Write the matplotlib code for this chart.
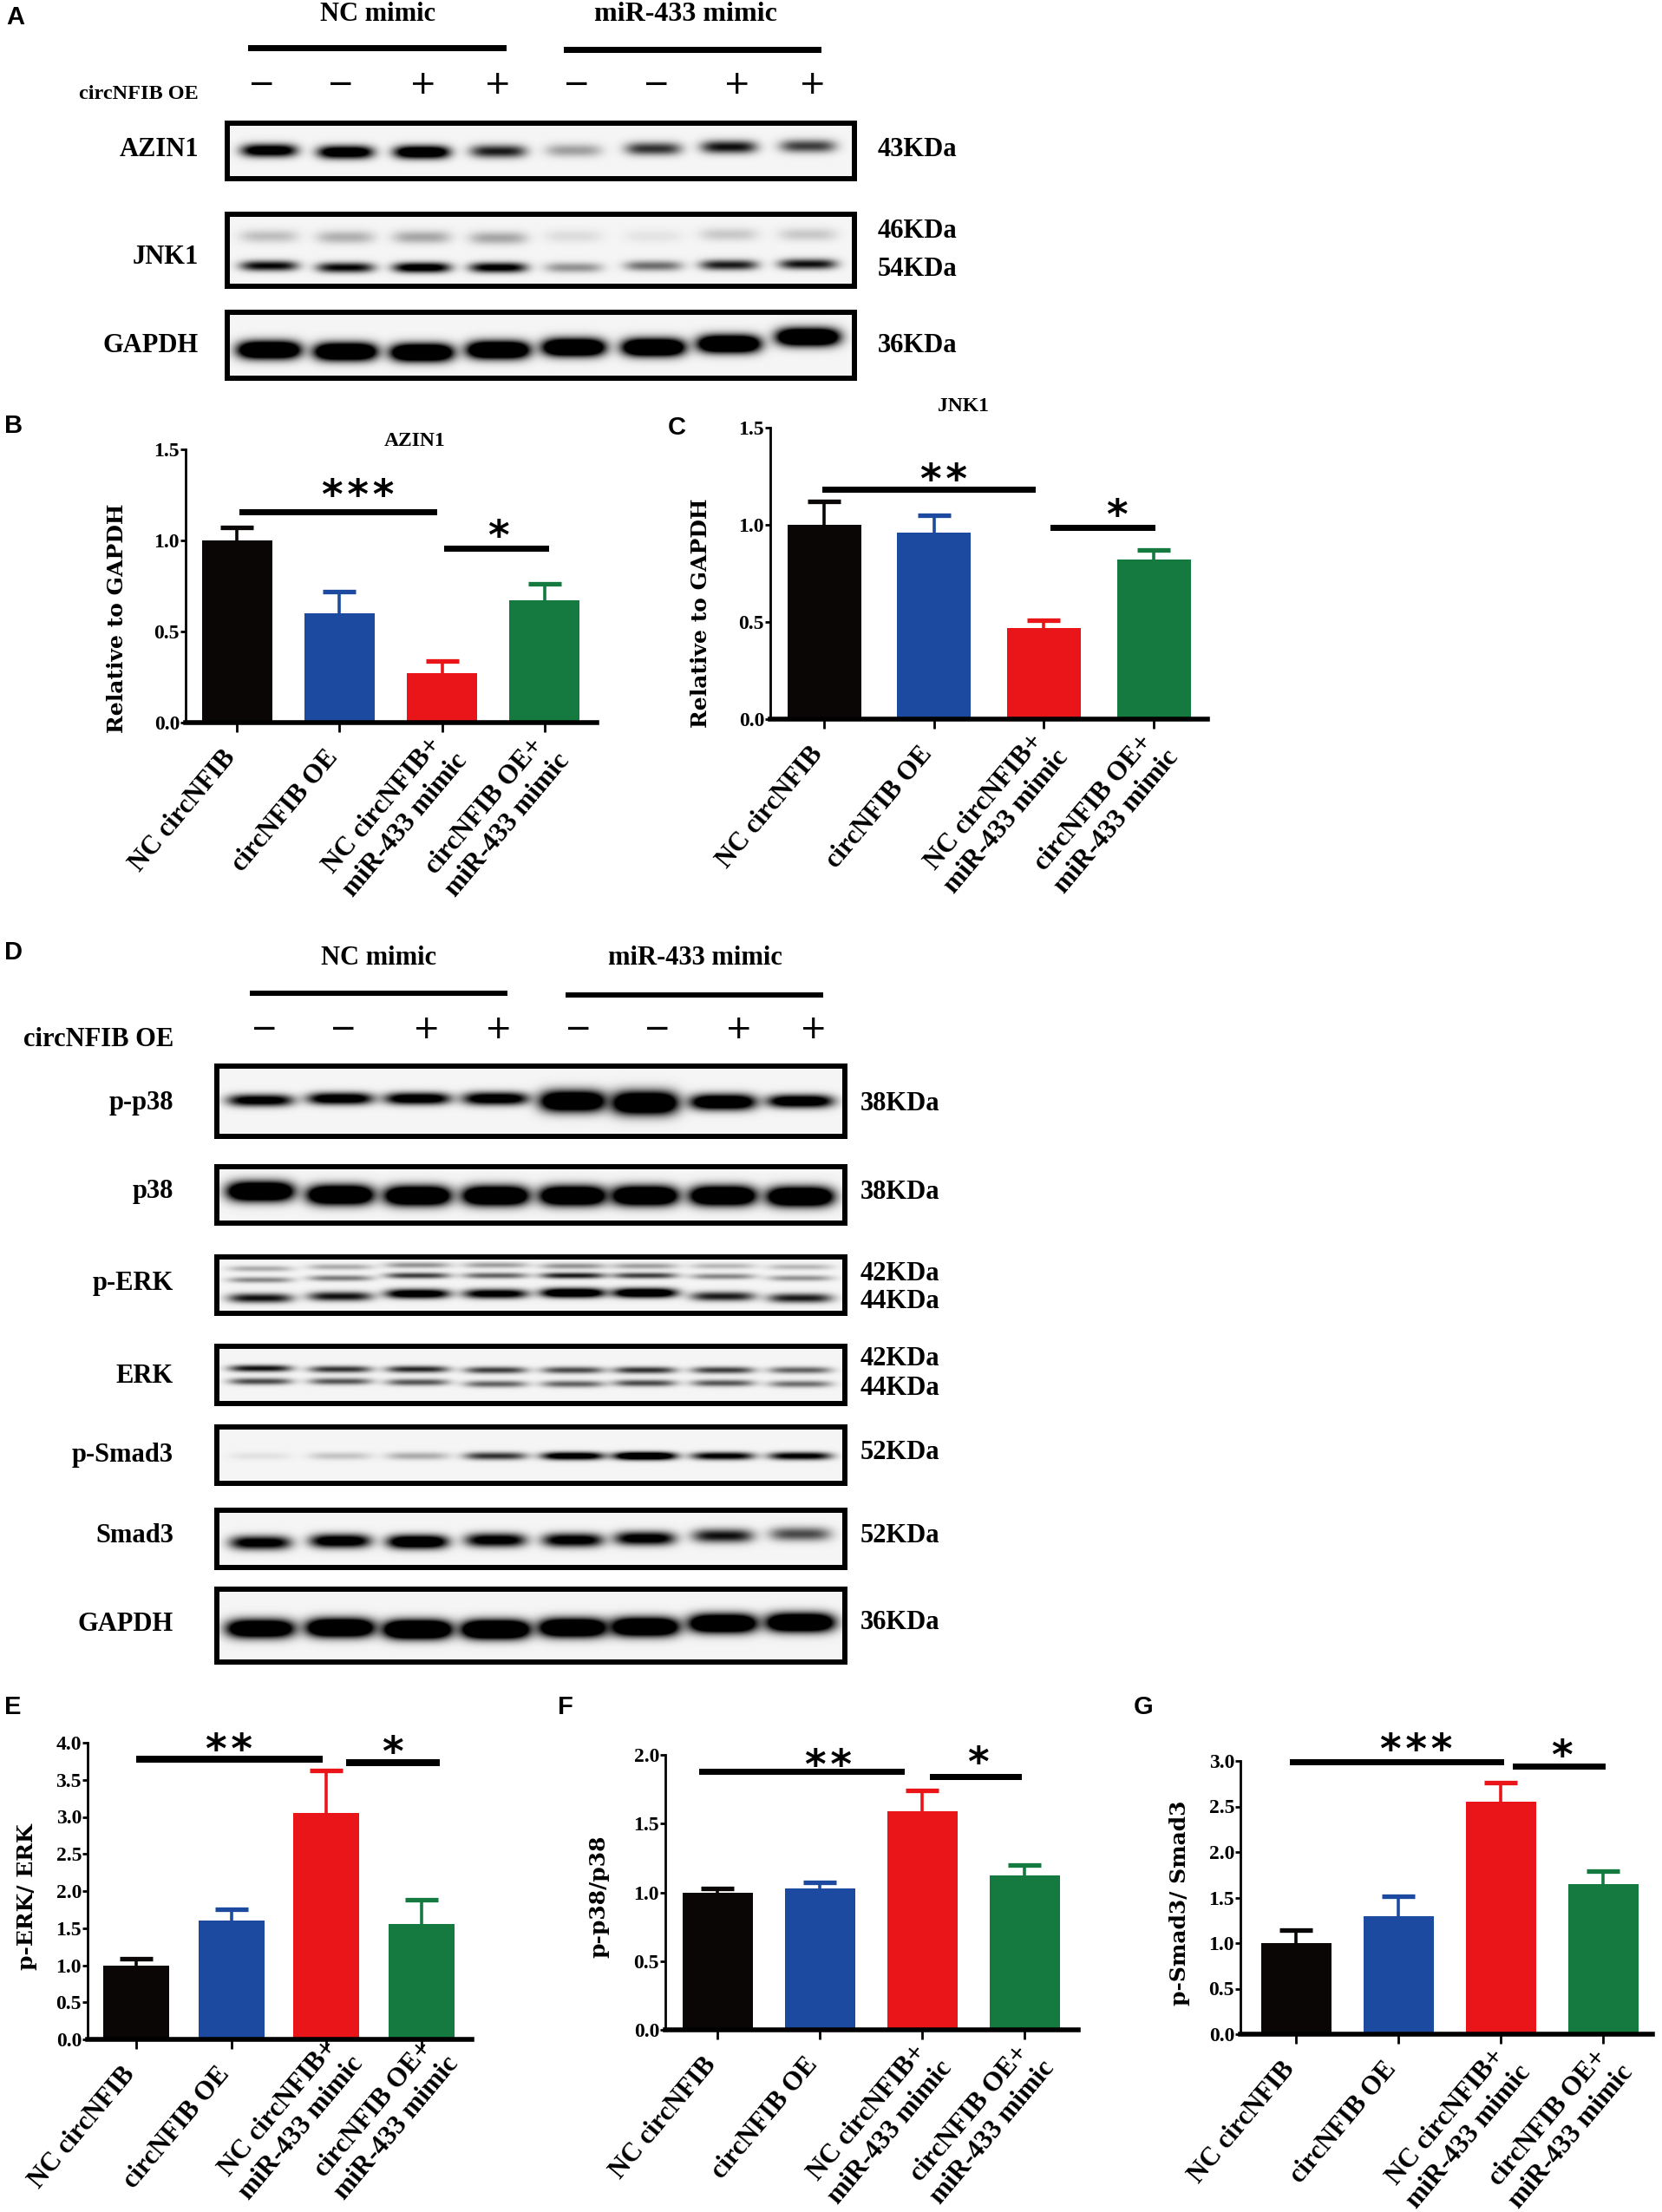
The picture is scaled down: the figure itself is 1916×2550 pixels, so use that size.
import matplotlib
matplotlib.use("Agg")
import matplotlib.pyplot as plt
from matplotlib.patches import Rectangle
import numpy as np

W, H = 1916, 2550
SERIF = "Liberation Serif"

# bar chart data
groups = ["NC circNFIB", "circNFIB OE", "NC circNFIB+\nmiR-433 mimic", "circNFIB OE+\nmiR-433 mimic"]
colors = ["#0a0606", "#1c4aa0", "#ea1519", "#157a40"]

azin1_mean = [1.0, 0.60, 0.27, 0.67]
azin1_top = [1.07, 0.72, 0.34, 0.76]
jnk1_mean = [1.0, 0.96, 0.47, 0.82]
jnk1_top = [1.12, 1.05, 0.51, 0.87]
perk_mean = [1.0, 1.60, 3.05, 1.55]
perk_top = [1.09, 1.75, 3.62, 1.88]
pp38_mean = [1.0, 1.03, 1.59, 1.12]
pp38_top = [1.03, 1.07, 1.74, 1.20]
psmad_mean = [1.0, 1.30, 2.55, 1.65]
psmad_top = [1.14, 1.51, 2.76, 1.79]

ticks_b = [0.0, 0.5, 1.0, 1.5]
ticks_e = [0.0, 0.5, 1.0, 1.5, 2.0, 2.5, 3.0, 3.5, 4.0]
ticks_f = [0.0, 0.5, 1.0, 1.5, 2.0]
ticks_g = [0.0, 0.5, 1.0, 1.5, 2.0, 2.5, 3.0]

# blot band darkness per lane, 0 = nothing, 1 = saturated
a_azin1 = [1.3, 1.4, 1.5, 0.9, 0.35, 0.8, 0.95, 0.75]
a_jnk_up = [0.22, 0.28, 0.32, 0.32, 0.1, 0.07, 0.18, 0.18]
a_jnk_low = [1.0, 1.0, 1.2, 1.1, 0.4, 0.55, 0.9, 0.95]
a_gapdh = [2.0] * 8
d_pp38 = [1.2, 1.3, 1.3, 1.3, 1.8, 1.9, 1.6, 1.4]
d_p38 = [2.0] * 8
d_perk_a = [0.3, 0.3, 0.4, 0.35, 0.4, 0.35, 0.25, 0.25]
d_perk_b = [0.45, 0.5, 0.75, 0.6, 0.9, 0.75, 0.45, 0.4]
d_perk_c = [0.95, 0.95, 1.3, 1.2, 1.5, 1.5, 0.9, 0.9]
d_erk_a = [0.95, 0.8, 0.85, 0.75, 0.7, 0.8, 0.75, 0.6]
d_erk_b = [0.7, 0.65, 0.65, 0.6, 0.6, 0.7, 0.65, 0.55]
d_psmad = [0.08, 0.2, 0.3, 0.8, 1.3, 1.6, 1.1, 1.1]
d_smad = [1.2, 1.3, 1.5, 1.2, 1.2, 1.2, 0.95, 0.7]
d_gapdh = [1.8, 2.0, 2.2, 2.2, 2.0, 2.0, 2.0, 2.0]

signs = ["−", "−", "+", "+", "−", "−", "+", "+"]

fig = plt.figure(figsize=(W / 100, H / 100), dpi=100, facecolor="white")
page = fig.add_axes([0, 0, 1, 1], zorder=5)
page.patch.set_alpha(0)
page.axis("off")


def txt(x, y, s, size=22, ha="center", va="center", **kw):
    kw.setdefault("family", SERIF)
    kw.setdefault("weight", "bold")
    page.text(x, y, s, fontsize=size, ha=ha, va=va, color="black", **kw)


def stars(x, y, n):
    txt(x, y, "\u200a".join("*" * n), size=34, family="DejaVu Sans")


def hbar(x0, x1, y, thick):
    page.add_patch(Rectangle((x0, y - thick / 2), x1 - x0, thick, fc="black", ec="none"))


def blot(frame, lanes, bands, lane_w, lw=6):
    x0, y0, x1, y1 = frame
    xs = np.arange(x0, x1)[None, :]
    ys = np.arange(y0, y1)[:, None]
    keep = np.ones((y1 - y0, x1 - x0))
    for rows, levels, high in bands:
        for cx, cy, level, hh in zip(lanes, rows, levels, np.broadcast_to(high, (8,))):
            gx = np.exp(-(((xs - cx) / (lane_w / 2)) ** 4))
            gy = np.exp(-(((ys - cy) / (hh / 2)) ** 2))
            keep *= 1 - np.clip(level * gx * gy, 0, 1)
    page.imshow(0.96 * keep, extent=(x0, x1, y1, y0), cmap="gray", vmin=0, vmax=1,
                aspect="auto", interpolation="bilinear")
    page.add_patch(Rectangle((x0, y0), x1 - x0, y1 - y0, fc="none", ec="black", lw=lw * 0.72))


def barpanel(axis_x, right, y0, y_top, tick0, step, bar_w, mean, top, yticks, ylab, lab_x, lab_y,
             two_dx=0, two_dy=0):
    ymax = yticks[-1]
    ax = fig.add_axes([axis_x / W, 1 - y0 / H, (right - axis_x) / W, (y0 - y_top) / H])
    ax.patch.set_alpha(0)
    x = np.arange(4)
    mean = np.array(mean)
    upper = np.array(top) - mean
    for i in x:
        ax.bar(i, mean[i], width=bar_w / step, color=colors[i], zorder=2)
        _, caps, _ = ax.errorbar(i, mean[i], yerr=[[0], [upper[i]]], color=colors[i], elinewidth=2.6,
                                 capsize=14, capthick=3.8, zorder=1)
        caps[0].set_visible(False)
    ax.set_xlim((axis_x - tick0) / step, (right - tick0) / step)
    ax.set_ylim(0, ymax)
    for s in ["top", "right"]:
        ax.spines[s].set_visible(False)
    ax.spines["left"].set_linewidth(2)
    ax.spines["bottom"].set_linewidth(4)
    ax.set_xticks(x)
    ax.set_xticklabels([])
    ax.set_yticks(yticks)
    ax.set_yticklabels([f"{v:.1f}" for v in yticks], family=SERIF, weight="bold", fontsize=17)
    ax.tick_params(axis="y", length=4, width=2, pad=1)
    ax.tick_params(axis="x", length=8, width=2)
    for i in x:
        px = tick0 + step * i
        # the two-line labels sit further up and right than the one-line ones
        if "\n" in groups[i]:
            lx, ly, fs = px - 14 + two_dx, y0 + 8 + two_dy, 22.5
        else:
            lx, ly, fs = px - 18, y0 + 26, 22
        page.text(lx, ly, groups[i], rotation=50, rotation_mode="anchor", ha="right",
                  va="top", multialignment="center", family=SERIF, weight="bold", fontsize=fs,
                  linespacing=1.25)
    page.text(lab_x, lab_y, ylab, rotation=90, ha="center", va="center", family="DejaVu Serif",
              weight="bold", fontsize=18)


# panel A
lanes_a = [310, 398, 486, 574, 661, 753, 840, 931]
marks_a = [302, 393, 488, 574, 665, 757, 850, 937]
txt(18, 20, "A", family="Liberation Sans", size=21)
txt(436, 16, "NC mimic")
txt(790, 16, "miR-433 mimic", size=23)
hbar(286, 584, 55, 7)
hbar(650, 947, 57, 7)
for mx, s in zip(marks_a, signs):
    txt(mx, 98, s, size=27, weight="normal", family="DejaVu Sans")
txt(229, 108, "circNFIB OE", ha="right", size=17.5)
blot((262, 142, 985, 206), lanes_a,
     [([173, 175, 175, 174, 173, 171, 169, 168], a_azin1, 15)], 64)
blot((262, 247, 985, 330), lanes_a,
     [([272, 273, 273, 274, 272, 272, 270, 270], a_jnk_up, 15),
      ([306, 308, 308, 308, 308, 306, 305, 304], a_jnk_low, 12)], 66)
blot((262, 360, 985, 436), lanes_a,
     [([403, 405, 406, 403, 400, 400, 396, 388], a_gapdh, 20)], 72)
for y, s in [(172, "AZIN1"), (297, "JNK1"), (398, "GAPDH")]:
    txt(229, y, s, ha="right")
for y, s in [(172, "43KDa"), (267, "46KDa"), (310, "54KDa"), (398, "36KDa")]:
    txt(1012, y, s, ha="left")

# panels B and C
txt(16, 491, "B", family="Liberation Sans", size=21)
txt(780, 493, "C", family="Liberation Sans", size=21)
txt(478, 508, "AZIN1", size=17)
txt(1111, 469, "JNK1", size=17)
barpanel(214, 688, 833, 518, 273, 118.3, 81, azin1_mean, azin1_top, ticks_b, "Relative to GAPDH", 135, 713)
barpanel(888, 1392, 829, 493, 950, 126.7, 85, jnk1_mean, jnk1_top, ticks_b, "Relative to GAPDH", 808, 707)
hbar(276, 504, 590, 7)
hbar(512, 633, 632, 7)
hbar(948, 1194, 564, 7)
hbar(1211, 1332, 608, 7)
stars(413, 574, 3)
stars(574, 621, 1)
stars(1088, 555, 2)
stars(1287, 597, 1)

# panel D
lanes_d = [300, 392, 481, 571, 660, 743, 833, 922]
marks_d = [305, 396, 492, 575, 667, 758, 852, 938]
txt(16, 1098, "D", family="Liberation Sans", size=21)
txt(437, 1104, "NC mimic")
txt(801, 1104, "miR-433 mimic")
hbar(288, 585, 1145, 6)
hbar(652, 949, 1147, 6)
for mx, s in zip(marks_d, signs):
    txt(mx, 1187, s, size=27, weight="normal", family="DejaVu Sans")
txt(200, 1198, "circNFIB OE", ha="right")
blot((250, 1229, 974, 1310), lanes_d,
     [([1268, 1266, 1266, 1266, 1269, 1271, 1270, 1269], d_pp38, [14, 14, 14, 15, 24, 26, 18, 15])], 76)
blot((250, 1345, 974, 1410), lanes_d,
     [([1373, 1377, 1378, 1378, 1378, 1378, 1378, 1379], d_p38, 22)], 76)
blot((250, 1449, 974, 1514), lanes_d,
     [([1462, 1460, 1458, 1458, 1459, 1459, 1459, 1460], d_perk_a, 7),
      ([1475, 1473, 1470, 1470, 1470, 1470, 1471, 1473], d_perk_b, 7),
      ([1496, 1494, 1491, 1491, 1490, 1490, 1494, 1496], d_perk_c, 11)], 74)
blot((250, 1552, 974, 1618), lanes_d,
     [([1577, 1578, 1578, 1579, 1579, 1579, 1579, 1579], d_erk_a, 8),
      ([1592, 1592, 1593, 1595, 1595, 1594, 1594, 1595], d_erk_b, 8)], 72)
blot((250, 1645, 974, 1710), lanes_d,
     [([1678] * 8, d_psmad, 9)], 72)
blot((250, 1741, 974, 1807), lanes_d,
     [([1778, 1776, 1777, 1775, 1775, 1773, 1770, 1768], d_smad, 16)], 70)
blot((250, 1832, 974, 1916), lanes_d,
     [([1877, 1876, 1878, 1878, 1876, 1875, 1871, 1870], d_gapdh, 21)], 78)
for y, s in [(1272, "p-p38"), (1374, "p38"), (1479, "p-ERK"), (1586, "ERK"),
             (1677, "p-Smad3"), (1771, "Smad3"), (1872, "GAPDH")]:
    txt(200, y, s, ha="right")
for y, s in [(1272, "38KDa"), (1374, "38KDa"), (1469, "42KDa"), (1500, "44KDa"), (1566, "42KDa"),
             (1600, "44KDa"), (1675, "52KDa"), (1770, "52KDa"), (1871, "36KDa")]:
    txt(992, y, s, ha="left")

# panels E, F, G
txt(15, 1968, "E", family="Liberation Sans", size=21)
txt(652, 1968, "F", family="Liberation Sans", size=21)
txt(1318, 1968, "G", family="Liberation Sans", size=21)
barpanel(101, 544, 2351, 2009, 157, 109.5, 76, perk_mean, perk_top, ticks_e, "p-ERK/ ERK", 31, 2187,
         two_dx=14, two_dy=-16)
barpanel(767, 1243, 2340, 2023, 827, 118, 81, pp38_mean, pp38_top, ticks_f, "p-p38/p38", 690, 2186,
         two_dx=6)
barpanel(1430, 1905, 2345, 2030, 1494, 118, 81, psmad_mean, psmad_top, ticks_g, "p-Smad3/ Smad3", 1360, 2194,
         two_dx=6)
hbar(157, 372, 2028, 8)
hbar(399, 507, 2032, 8)
hbar(806, 1043, 2042, 7)
hbar(1072, 1178, 2048, 7)
hbar(1487, 1734, 2031, 7)
hbar(1744, 1851, 2036, 7)
stars(264, 2019, 2)
stars(452, 2022, 1)
stars(955, 2038, 2)
stars(1127, 2035, 1)
stars(1633, 2019, 3)
stars(1800, 2026, 1)

page.set_xlim(0, W)
page.set_ylim(H, 0)
fig.savefig("out.png", dpi=100)
